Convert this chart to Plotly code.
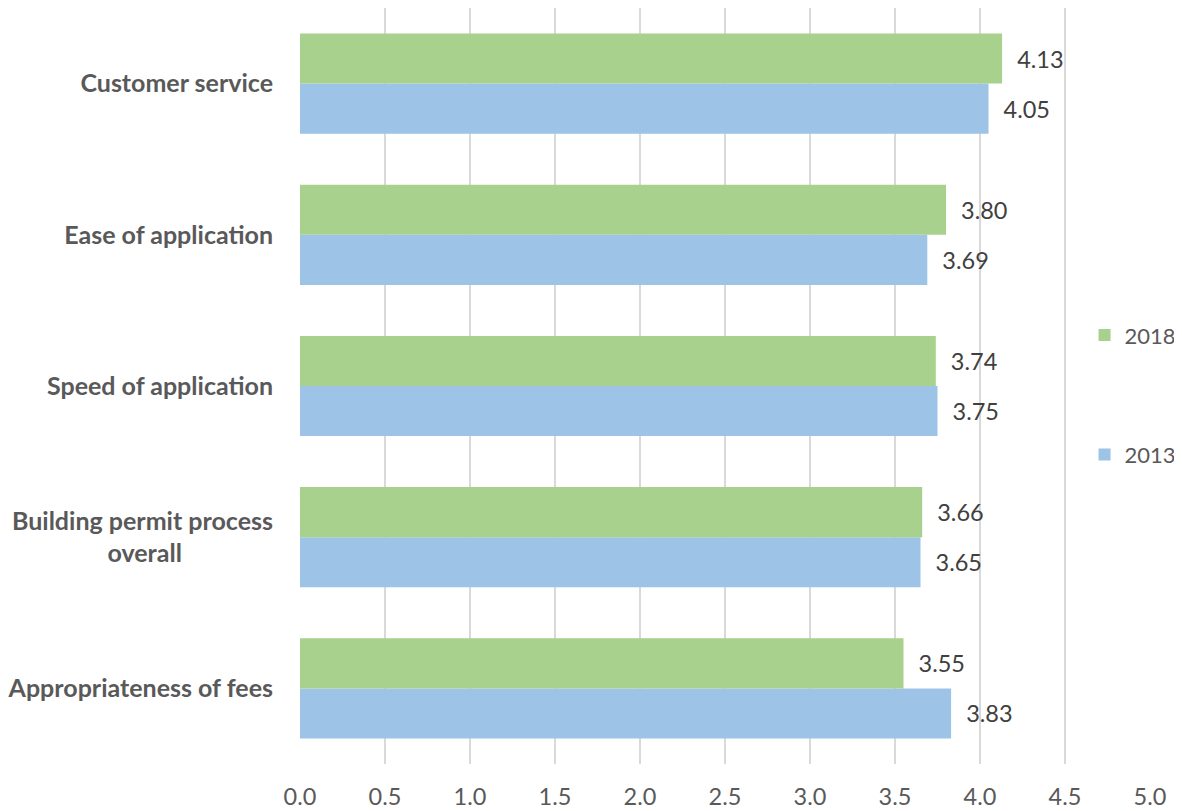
import plotly.graph_objects as go

NB = "\u00a0"
categories = ["Customer service", "Ease of application", "Speed of application",
              "Building permit process<br>overall" + NB * 15, "Appropriateness of fees"]
values_2018 = [4.13, 3.80, 3.74, 3.66, 3.55]
values_2013 = [4.05, 3.69, 3.75, 3.65, 3.83]
x_ticks = [0.0, 0.5, 1.0, 1.5, 2.0, 2.5, 3.0, 3.5, 4.0, 4.5, 5.0]

FONT = "Lato"
fig = go.Figure()
fig.add_trace(go.Bar(
    y=categories, x=values_2013, orientation="h", name="2013",
    marker=dict(color="#9DC3E6", line=dict(width=0)),
    text=[NB * 2 + f"{v:.2f}" for v in values_2013],
    textposition="outside", cliponaxis=False,
    textfont=dict(family=FONT, size=23.5, color="#404040"),
    legendgroup="a", legendrank=2,
))
fig.add_trace(go.Bar(
    y=categories, x=values_2018, orientation="h", name="2018",
    marker=dict(color="#A9D18E", line=dict(width=0)),
    text=[NB * 2 + f"{v:.2f}" for v in values_2018],
    textposition="outside", cliponaxis=False,
    textfont=dict(family=FONT, size=23.5, color="#404040"),
    legendgroup="b", legendrank=1,
))

fig.update_layout(
    width=1174, height=803,
    margin=dict(l=292, r=26, t=0, b=47),
    plot_bgcolor="white", paper_bgcolor="white",
    barmode="group", bargap=0.337, bargroupgap=0,
    font=dict(family=FONT, color="#595959"),
    xaxis=dict(range=[0, 5], tickvals=x_ticks, ticktext=[f"{t:.1f}" for t in x_ticks],
               showgrid=True, gridcolor="#D9D9D9", gridwidth=1.5,
               zeroline=False, showline=False, ticks="", ticklen=0, automargin=False,
               tickfont=dict(family=FONT, size=23.5, color="#595959"),
               ticklabelstandoff=16),
    yaxis=dict(categoryorder="array", categoryarray=categories[::-1],
               showgrid=False, zeroline=False, showline=False, ticks="", automargin=False,
               tickfont=dict(family=FONT, size=25, color="#595959", weight="bold"),
               ticklabelstandoff=26),
    legend=dict(x=0.923, y=0.595, xanchor="left", yanchor="top",
                traceorder="grouped", tracegroupgap=88,
                bgcolor="rgba(0,0,0,0)",
                font=dict(family=FONT, size=22, color="#595959"),
                itemwidth=30),
    showlegend=True,
)

fig.write_html("out.html")
